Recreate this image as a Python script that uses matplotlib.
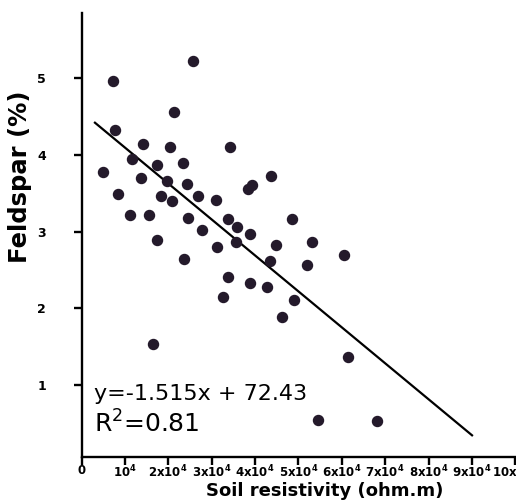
import numpy as np
import matplotlib.pyplot as plt

plt.rcParams['font.family'] = 'DejaVu Sans'
plt.rcParams['mathtext.default'] = 'regular'

# soil resistivity (units of 10^4 ohm.m) and feldspar content (%)
resistivity = [0.73, 2.56, 2.14, 0.78, 1.42, 2.04, 3.42, 1.16, 1.73, 2.34,
               0.49, 1.37, 1.96, 2.43, 4.36, 3.83, 3.94, 0.83, 1.83, 2.09,
               2.68, 3.09, 1.12, 1.56, 2.45, 3.37, 3.58, 3.88, 2.78, 1.73,
               4.85, 3.13, 3.57, 4.48, 5.32, 4.35, 5.20, 2.36, 3.38, 3.89,
               4.27, 3.25, 4.90, 4.62, 1.65, 5.44, 6.05, 6.15, 6.82]
feldspar = [4.96, 5.23, 4.56, 4.33, 4.14, 4.10, 4.10, 3.94, 3.87, 3.89,
            3.78, 3.70, 3.66, 3.62, 3.73, 3.56, 3.61, 3.49, 3.47, 3.40,
            3.47, 3.41, 3.21, 3.21, 3.18, 3.17, 3.06, 2.97, 3.02, 2.89,
            3.16, 2.80, 2.86, 2.83, 2.86, 2.62, 2.56, 2.64, 2.41, 2.33,
            2.28, 2.15, 2.11, 1.89, 1.54, 0.55, 2.70, 1.36, 0.53]

# trend line as drawn on the chart
fit_x = [0.31, 9.0]
fit_slope = -0.469
fit_intercept = 4.565

x_ticks = list(range(11))
x_ticklabels = ['0', '10^4'] + ['%dx10^4' % i for i in range(2, 11)]
y_ticks = [1, 2, 3, 4, 5]

fig = plt.figure(figsize=(5.16, 5.0), dpi=100)
ax = fig.add_axes([81.5 / 516, 43.3 / 500, 440 / 516, 443.7 / 500])

ax.scatter(resistivity, feldspar, s=52, color='#241a2b', zorder=3)
fx = np.array(fit_x)
ax.plot(fx, fit_slope * fx + fit_intercept, color='black', lw=1.6)

ax.set_xlim(0.02, 10.14)
ax.set_ylim(0.065, 5.85)

ax.spines['top'].set_visible(False)
ax.spines['right'].set_visible(False)
for s in ['left', 'bottom']:
    ax.spines[s].set_linewidth(1.7)

ax.set_xticks(x_ticks)
ax.set_xticklabels([r'$\mathbf{' + t + '}$' for t in x_ticklabels], fontsize=8.5)
ax.set_yticks(y_ticks)
ax.set_yticklabels([str(t) for t in y_ticks], fontsize=9, fontweight='bold')
ax.tick_params(axis='x', length=6, width=1.7, pad=-1)
ax.tick_params(axis='y', length=5.5, width=1.7, pad=20)

ax.set_xlabel('Soil resistivity (ohm.m)', fontsize=13, fontweight='bold')
ax.xaxis.set_label_coords(0.552, -0.089)
ax.xaxis.label.set_va('baseline')
ax.set_ylabel('Feldspar (%)', fontsize=17.5, fontweight='bold')
ax.yaxis.set_label_coords(-0.113, 0.6315)

ax.text(0.286, 0.805, 'y=-1.515x + 72.43', fontsize=16, va='baseline')
ax.text(0.286, 0.374, r'R$^2$=0.81', fontsize=18, va='baseline')

fig.savefig('out.png', dpi=100)
